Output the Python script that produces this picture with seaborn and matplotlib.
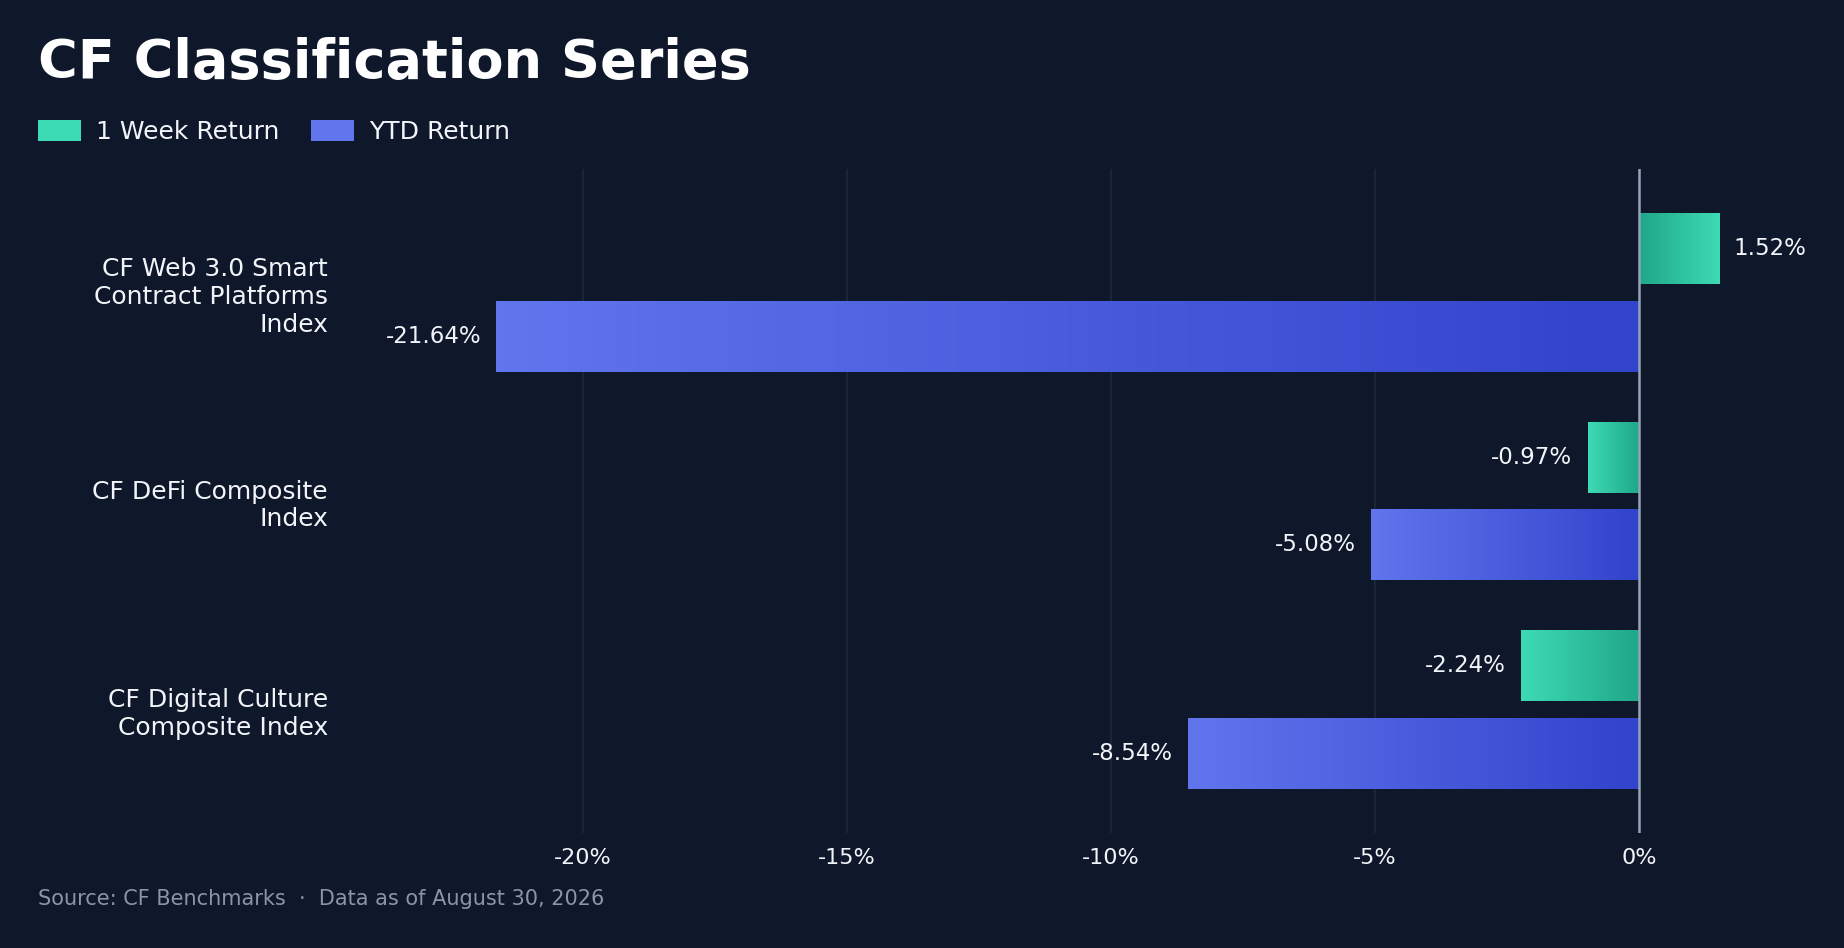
import numpy as np
import pandas as pd
import matplotlib
matplotlib.use("Agg")
import matplotlib.pyplot as plt
from matplotlib.colors import LinearSegmentedColormap
from matplotlib.patches import Patch
import seaborn as sns

# Datos del gráfico
indices = [
    "CF Web 3.0 Smart\nContract Platforms\nIndex",
    "CF DeFi Composite\nIndex",
    "CF Digital Culture\nComposite Index",
]
series = ["1 Week Return", "YTD Return"]
week_return = [1.52, -0.97, -2.24]
ytd_return = [-21.64, -5.08, -8.54]
x_ticks = [-20, -15, -10, -5, 0]

# Colores
bg = "#0f172a"
grid_col = "#1e293b"
zero_col = "#94a3b8"
text_col = "#f1f5f9"
muted_col = "#8b95a8"
bright = {"1 Week Return": "#3ddbb5", "YTD Return": "#6175ed"}
dark = {"1 Week Return": "#1fa788", "YTD Return": "#3243cc"}

df = pd.DataFrame({
    "index": indices * 2,
    "series": [series[0]] * 3 + [series[1]] * 3,
    "value": week_return + ytd_return,
})

sns.set_theme(style="dark", rc={"axes.facecolor": bg, "figure.facecolor": bg})
plt.rcParams["font.family"] = ["DejaVu Sans"]

fig = plt.figure(figsize=(18.44, 9.48), dpi=100)
ax = fig.add_axes([0.1873, 0.1213, 0.7988, 0.7004])
ax.set_facecolor(bg)

sns.barplot(data=df, y="index", x="value", hue="series", hue_order=series,
            order=indices, orient="h", width=0.84, gap=0.19,
            palette=bright, legend=False, ax=ax, zorder=2)

# Gradiente en cada barra: oscuro en cero, claro en la punta
grad = np.linspace(0, 1, 256).reshape(1, -1)
for cont, name in zip(ax.containers, series):
    cmap = LinearSegmentedColormap.from_list(name, [dark[name], bright[name]])
    for bar in cont:
        x0 = bar.get_x()
        w = bar.get_width()
        y0 = bar.get_y()
        h = bar.get_height()
        tip = x0 + w
        img = ax.imshow(grad, extent=(0, tip, y0, y0 + h), aspect="auto",
                        cmap=cmap, zorder=2, interpolation="bicubic")
        img.set_clip_path(bar)
        bar.set_facecolor("none")
        bar.set_edgecolor("none")
        # Etiqueta del valor
        off = 10.5 if tip >= 0 else -11
        ax.annotate(f"{tip:.2f}%", xy=(tip, y0 + h / 2), xytext=(off, 0),
                    textcoords="offset points", va="center",
                    ha="left" if tip >= 0 else "right",
                    fontsize=16.5, color=text_col)

ax.axvline(0, color=zero_col, lw=1.8, zorder=3)

ax.set_xlim(-24.5, 3.4)
ax.set_ylim(2.593, -0.593)
ax.set_xticks(x_ticks)
ax.set_xticklabels([f"{t}%" for t in x_ticks])
ax.grid(axis="x", color=grid_col, lw=1.2)
ax.grid(axis="y", visible=False)
ax.set_axisbelow(True)
for s in ax.spines.values():
    s.set_visible(False)
ax.set_xlabel("")
ax.set_ylabel("")
ax.tick_params(axis="y", length=0, pad=12.5, labelsize=18, labelcolor=text_col)
ax.tick_params(axis="x", length=0, pad=11, labelsize=16, labelcolor=text_col)
for lbl in ax.get_yticklabels():
    lbl.set_linespacing(1.2)

# Título, leyenda y fuente
fig.text(38 / 1844, 0.918, "CF Classification Series", fontsize=39,
         fontweight="bold", color="white", va="baseline", ha="left")

handles = [Patch(facecolor=bright[s], edgecolor="none", label=s) for s in series]
leg = fig.legend(handles=handles, loc="center left", bbox_to_anchor=(38 / 1844, 0.861),
                 ncol=2, frameon=False, fontsize=18, handlelength=1.7,
                 handleheight=0.97, handletextpad=0.6, columnspacing=1.3,
                 borderpad=0, borderaxespad=0)
for t in leg.get_texts():
    t.set_color(text_col)

fig.text(38 / 1844, 0.052, "Source: CF Benchmarks  \u00b7  Data as of August 30, 2026",
         fontsize=15, color=muted_col, va="center", ha="left")

fig.savefig("out.png", dpi=100, facecolor=bg)
